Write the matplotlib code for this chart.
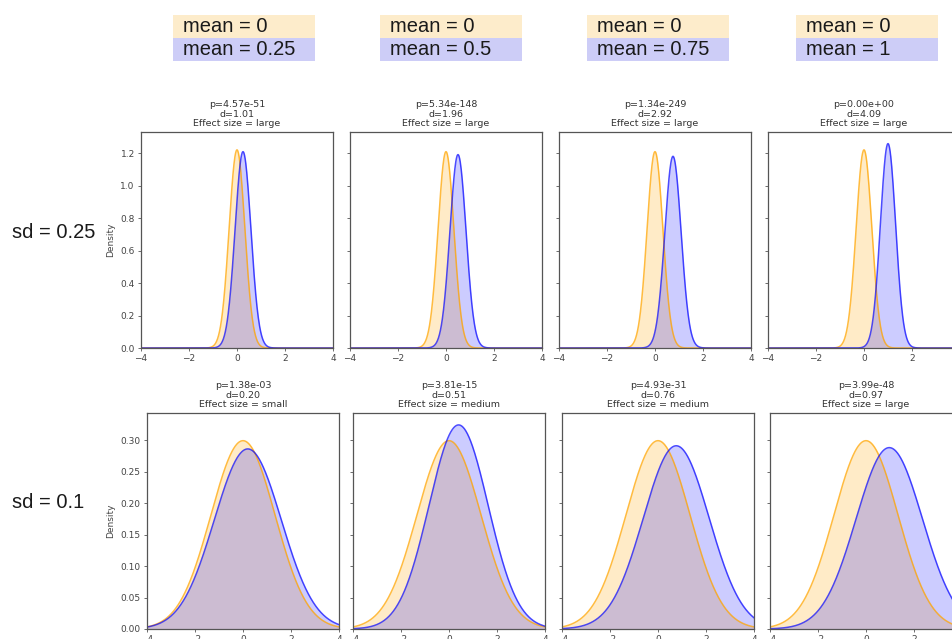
import numpy as np
import matplotlib.pyplot as plt
from matplotlib.patches import Rectangle

# group means shown in each column (reference group always at 0)
means_a = [0, 0, 0, 0]
means_b = [0.25, 0.5, 0.75, 1]

# peak centres / spreads of the density curves, per row
row_labels = ['sd = 0.25', 'sd = 0.1']
peak_a = [[0, 0, 0, 0], [0, 0, 0, 0]]
peak_b = [[0.25, 0.5, 0.75, 1.0], [0.2, 0.4, 0.76, 0.97]]
width_a = [[0.327, 0.330, 0.330, 0.327], [1.334, 1.334, 1.334, 1.334]]
width_b = [[0.330, 0.335, 0.338, 0.317], [1.395, 1.231, 1.371, 1.385]]

pvals = [['4.57e-51', '5.34e-148', '1.34e-249', '0.00e+00'],
         ['1.38e-03', '3.81e-15', '4.93e-31', '3.99e-48']]
dvals = [[1.01, 1.96, 2.92, 4.09], [0.20, 0.51, 0.76, 0.97]]
effect = [['large', 'large', 'large', 'large'],
          ['small', 'medium', 'medium', 'large']]

W, H = 952, 639
fig = plt.figure(figsize=(W / 100, H / 100), dpi=100)

row_top = [132, 413]
row_lefts = [[141, 350, 559, 768], [147, 353, 562, 770]]
ax_w, ax_h = 192, 216
ylims = [1.33, 0.343]
yticks = [np.arange(0, 1.21, 0.2), np.arange(0, 0.301, 0.05)]
yfmt = ['{:.1f}', '{:.2f}']

x = np.linspace(-4, 4, 600)


def density(x, mu, s):
    return np.exp(-0.5 * ((x - mu) / s) ** 2) / (s * np.sqrt(2 * np.pi))


for r in range(2):
    for c in range(4):
        left = row_lefts[r][c]
        ax = fig.add_axes([left / W, 1 - (row_top[r] + ax_h) / H, ax_w / W, ax_h / H])
        ya = density(x, peak_a[r][c], width_a[r][c])
        yb = density(x, peak_b[r][c], width_b[r][c])
        ax.fill_between(x, ya, color='orange', alpha=0.22, lw=0)
        ax.plot(x, ya, color='orange', lw=1.1, alpha=0.75)
        ax.fill_between(x, yb, color='blue', alpha=0.2, lw=0)
        ax.plot(x, yb, color='blue', lw=1.1, alpha=0.7)
        ax.set_xlim(-4, 4)
        ax.set_ylim(0, ylims[r])
        ax.set_xticks([-4, -2, 0, 2, 4])
        ax.set_yticks(yticks[r])
        ax.tick_params(labelsize=6.5, length=2.5, width=0.6, colors='#555555',
                       labelcolor='#444444', pad=2)
        if c == 0:
            ax.set_yticklabels([yfmt[r].format(v) for v in yticks[r]])
            ax.set_ylabel('Density', fontsize=6.5, color='#444444', labelpad=4)
        else:
            ax.set_yticklabels([])
        for sp in ax.spines.values():
            sp.set_linewidth(0.9)
            sp.set_color('#555555')
        ax.set_title(f'p={pvals[r][c]}\nd={dvals[r][c]:.2f}\nEffect size = {effect[r][c]}',
                     fontsize=6.8, color='#333333', pad=4, linespacing=1.08)

# mean boxes above each column
box_lefts = [173, 380, 587, 796]
box_w, box_h = 142, 23
for c in range(4):
    for k, (txt, col) in enumerate([(f'mean = {means_a[c]}', '#fdeccb'),
                                     (f'mean = {means_b[c]}', '#cdcdf7')]):
        y0 = 15 + k * box_h
        fig.patches.append(Rectangle((box_lefts[c] / W, 1 - (y0 + box_h) / H),
                                     box_w / W, box_h / H, transform=fig.transFigure,
                                     facecolor=col, edgecolor='none'))
        fig.text((box_lefts[c] + 10) / W, 1 - (y0 + box_h / 2) / H, txt,
                 fontsize=14.5, family='Liberation Sans', color='#1a1a1a',
                 ha='left', va='center')

# row labels
for r, yc in enumerate([232, 503]):
    fig.text(12 / W, 1 - yc / H, row_labels[r], fontsize=14.5,
             family='Liberation Sans', color='#1a1a1a', ha='left', va='center')

fig.savefig('out.png', dpi=100)
